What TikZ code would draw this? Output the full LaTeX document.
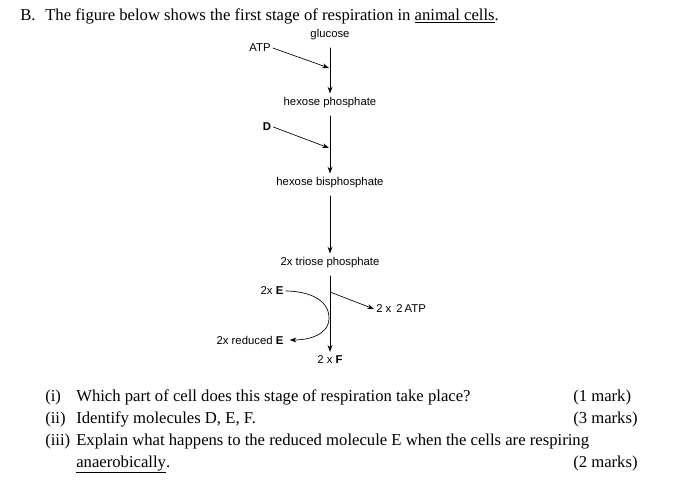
\documentclass[tikz,border=0pt]{standalone}
\usepackage{fontspec}
\setmainfont{Liberation Serif}
\newfontfamily\diagfont{Liberation Sans}
\usetikzlibrary{arrows.meta}
\tikzset{
    resp/.style={
        x=0.75pt, y=-0.75pt,
        line cap = round, line join = round,
    },
    flow/.style={-{Stealth[length=5pt,width=3.6pt]}, line width=0.5pt},
    mol/.style={font=\diagfont\fontsize{8.5}{10}\selectfont, inner sep=3pt},
    qtext/.style={font=\fontsize{12.5}{15}\selectfont, anchor=base west, inner sep=0pt},
}
\newcommand{\molb}[1]{\textbf{#1}}

\begin{document}
\begin{tikzpicture}
        [resp]
\useasboundingbox (0,0) rectangle (700,487);
% heading
\node[qtext] (hB) at (20,20) {B.};
\node[qtext] (head) at (45,20) {The figure below shows the first stage of respiration in \underline{animal cells}.};
% main chain
\node[mol] (glu) at (330,35) {glucose};
\node[mol] (hp) at (330,103) {hexose phosphate};
\node[mol] (hbp) at (330,183) {hexose bisphosphate};
\node[mol] (tp) at (330,263) {2x triose phosphate};
\node[mol] (F) at (330,360) {2 x \molb{F}};
\draw[flow, shorten <=2.5pt] (glu) -- (hp);
\draw[flow, shorten <=2.5pt] (hp) -- (hbp);
\draw[flow, shorten <=2.5pt] (hbp) -- (tp);
\draw[flow, shorten <=2.5pt] (tp) -- (F);
% inputs
\node[mol, inner sep=1.5pt] (atp) at (260,48) {ATP};
\coordinate (atpin) at (329,68);
\draw[flow] (atp.east) -- (atpin);
\node[mol, inner sep=1.5pt] (D) at (267,127) {\molb{D}};
\coordinate (Din) at (329,148);
\draw[flow] (D.east) -- (Din);
% last step
\node[mol, inner sep=1.5pt] (E) at (272,291) {2x \molb{E}};
\node[mol, inner sep=1.5pt] (Ered) at (250,340) {2x reduced \molb{E}};
\coordinate (Eturn) at (329,318);
\draw[flow] (E.east) to[out=0,in=90] (Eturn) to[out=-90,in=0] ([xshift=3pt]Ered.east);
\coordinate (atpout) at (330,292);
\node[mol, inner sep=1.5pt, anchor=west] (atp2) at (374,309) {2 x\, 2\,ATP};
\draw[flow] (atpout) -- (atp2.west);
% questions
\node[qtext] (q1n) at (45,401) {(i)};
\node[qtext] (q1) at (76,401) {Which part of cell does this stage of respiration take place?};
\node[qtext] (m1) at (573,401) {(1 mark)};
\node[qtext] (q2n) at (45,423) {(ii)};
\node[qtext] (q2) at (76,423) {Identify molecules D, E, F.};
\node[qtext] (m2) at (573,423) {(3 marks)};
\node[qtext] (q3n) at (45,445) {(iii)};
\node[qtext] (q3) at (76,445) {Explain what happens to the reduced molecule E when the cells are respiring};
\node[qtext] (q3b) at (76,467) {\underline{anaerobically}.};
\node[qtext] (m3) at (573,467) {(2 marks)};
\end{tikzpicture}
\end{document}
